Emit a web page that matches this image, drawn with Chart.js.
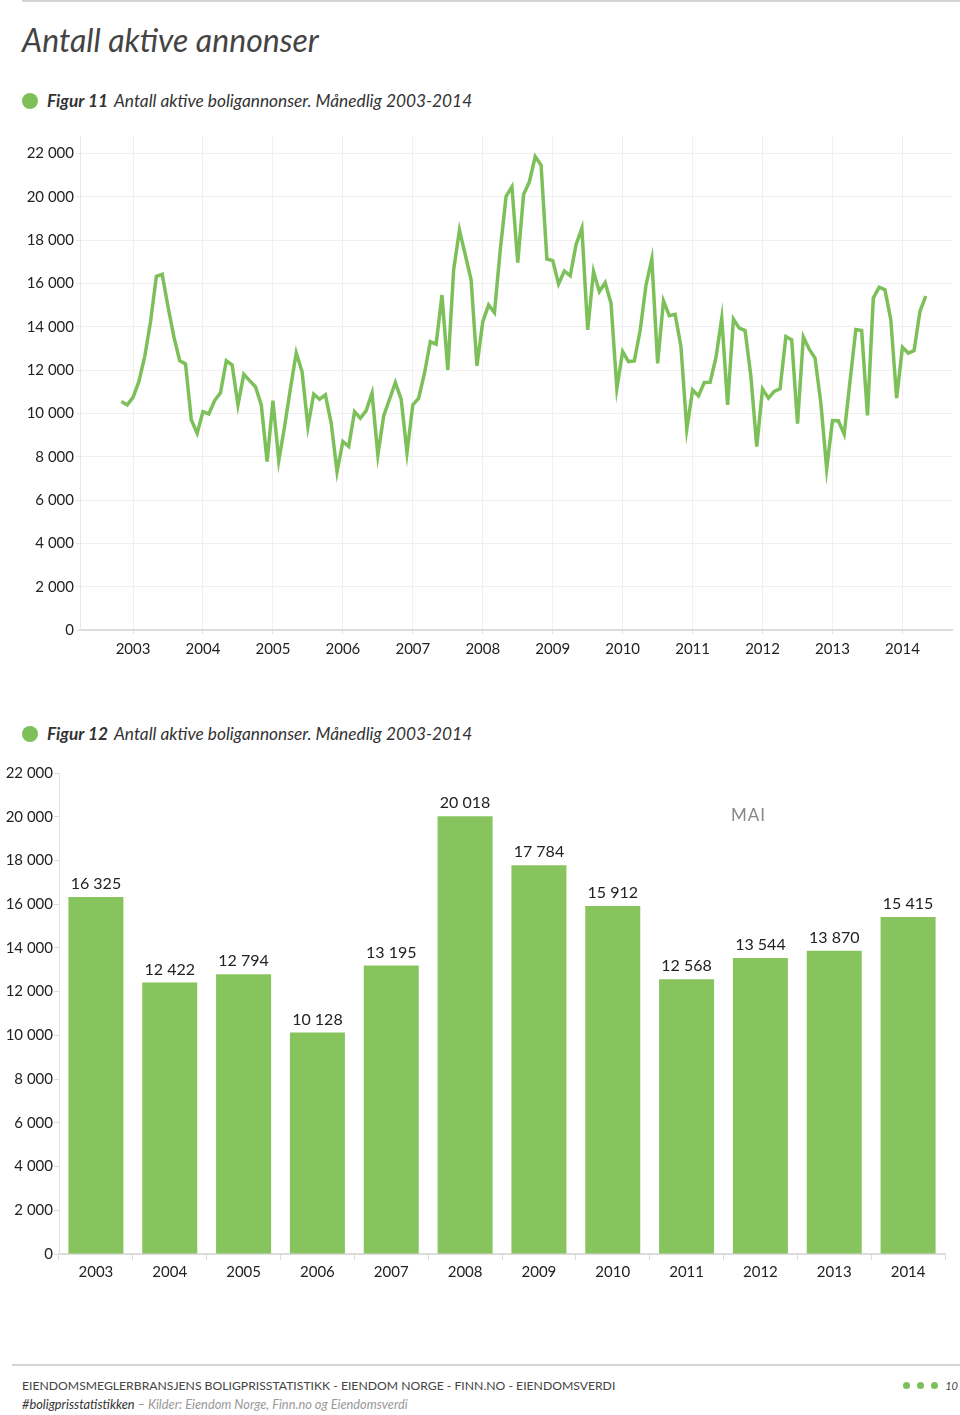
<!DOCTYPE html>
<html>
<head>
<meta charset="utf-8">
<script src="https://cdn.jsdelivr.net/npm/chart.js@4/dist/chart.umd.min.js"></script>
<style>
  html, body { margin: 0; padding: 0; background: #fff; }
  body { width: 960px; height: 1415px; position: relative; overflow: hidden; font-family: Lato, "Open Sans", sans-serif; color: #333; }
  .topline { position: absolute; left: 22px; right: 0; top: 0; height: 2px; background: #d4d4d4; }
  h1 { position: absolute; left: 22px; top: 20px; margin: 0; font-weight: 400; font-style: italic; font-size: 32px; color: #444; }
  .cap { position: absolute; left: 22px; font-style: italic; font-size: 17.3px; color: #333; white-space: nowrap; }
  .cap .dot { display: inline-block; width: 16px; height: 16px; border-radius: 50%; background: #7dc05a; vertical-align: -2px; margin-right: 9px; }
  .cap b { font-weight: 700; margin-right: 6px; }
  .box { position: absolute; left: 0; width: 960px; }
  .mai { position: absolute; left: 731px; top: 804px; font-size: 17px; color: #888; letter-spacing: 1px; }
  .footline { position: absolute; left: 12px; right: 0; top: 1364px; height: 2px; background: #d4d4d4; }
  .foot1 { position: absolute; left: 22px; top: 1378px; font-size: 12.2px; color: #444; white-space: nowrap; }
  .foot2 { position: absolute; left: 22px; top: 1396px; font-size: 12.8px; font-style: italic; color: #333; white-space: nowrap; }
  .foot2 span { color: #999; }
  .pg { position: absolute; right: 2px; top: 1379px; font-size: 11px; font-style: italic; color: #444; }
  .pg i { display: inline-block; width: 7px; height: 7px; border-radius: 50%; background: #7dc05a; margin-right: 7px; vertical-align: 1px; }
</style>
</head>
<body>
<div class="topline"></div>
<h1>Antall aktive annonser</h1>
<div class="cap" style="top:90px"><span class="dot"></span><b>Figur 11</b>Antall aktive boligannonser. Månedlig 2003-2014</div>
<div class="box" style="top:120px;height:550px"><canvas id="lineChart"></canvas></div>
<div class="cap" style="top:723px"><span class="dot"></span><b>Figur 12</b>Antall aktive boligannonser. Månedlig 2003-2014</div>
<div class="box" style="top:760px;height:530px"><canvas id="barChart"></canvas></div>
<div class="mai">MAI</div>
<div class="footline"></div>
<div class="foot1">EIENDOMSMEGLERBRANSJENS BOLIGPRISSTATISTIKK - EIENDOM NORGE - FINN.NO - EIENDOMSVERDI</div>
<div class="foot2">#boligprisstatistikken <span>– Kilder: Eiendom Norge, Finn.no og Eiendomsverdi</span></div>
<div class="pg"><i></i><i></i><i></i>10</div>
<script>
// years on both x axes
const years = ['2003', '2004', '2005', '2006', '2007', '2008', '2009', '2010', '2011', '2012', '2013', '2014'];
// y axis ticks
const yTicks = [0, 2000, 4000, 6000, 8000, 10000, 12000, 14000, 16000, 18000, 20000, 22000];
// monthly series, Nov 2002 - May 2014 (first value is 2 months before Jan 2003)
const firstMonth = -2;
const monthlyAds = [
  10550, 10390,
  10740, 11460, 12620, 14230, 16325, 16415, 14920, 13540, 12430, 12280, 9690, 9080,
  10080, 9970, 10590, 10950, 12422, 12230, 10390, 11800, 11510, 11230, 10390, 7770,
  10590, 7820, 9390, 11150, 12794, 11920, 9390, 10890, 10650, 10850, 9540, 7310,
  8700, 8470, 10080, 9770, 10128, 10930, 8080, 9880, 10650, 11420, 10650, 8190,
  10390, 10700, 11850, 13310, 13195, 15460, 12000, 16620, 18460, 17310, 16160, 12190,
  14230, 15000, 14650, 17540, 20018, 20460, 16960, 20100, 20690, 21850, 21460, 17120,
  17050, 15970, 16570, 16350, 17784, 18540, 13850, 16540, 15620, 16030, 15080, 11160,
  12850, 12390, 12420, 13820, 15912, 17120, 12310, 15190, 14510, 14570, 13080, 9270,
  11080, 10800, 11420, 11430, 12568, 14390, 10390, 14350, 13930, 13820, 11700, 8470,
  11120, 10700, 11010, 11130, 13544, 13390, 9520, 13520, 12960, 12550, 10470, 7440,
  9670, 9660, 9040, 11470, 13870, 13820, 9900, 15320, 15820, 15700, 14320, 10700,
  13050, 12780, 12900, 14700, 15415
];
// May values per year
const mayAds = [16325, 12422, 12794, 10128, 13195, 20018, 17784, 15912, 12568, 13544, 13870, 15415];

const green = '#7dc05a';
const barGreen = '#88c45e';
const fmt = v => String(v).replace(/\B(?=(\d{3})+(?!\d))/g, ' ');
Chart.defaults.font.family = 'Lato, "Open Sans", sans-serif';
Chart.defaults.color = '#222';

new Chart(document.getElementById('lineChart'), {
  type: 'line',
  data: {
    datasets: [{
      data: monthlyAds.map((v, i) => ({ x: firstMonth + i, y: v })),
      borderColor: green,
      borderWidth: 3.5,
      pointRadius: 0,
      tension: 0,
      fill: false
    }]
  },
  options: {
    responsive: true,
    maintainAspectRatio: false,
    animation: false,
    layout: { padding: { top: 16, right: 8, left: 0, bottom: 0 } },
    plugins: { legend: { display: false }, tooltip: { enabled: false } },
    scales: {
      x: {
        type: 'linear',
        min: -9.1,
        max: 140.5,
        afterBuildTicks: s => { s.ticks = years.map((y, i) => ({ value: i * 12 })); },
        afterFit: s => { s.height = 40; },
        ticks: { font: { size: 15 }, padding: 6, callback: v => String(2003 + v / 12) },
        grid: { color: '#f0f0f0', tickLength: 4, tickColor: '#e0e0e0' },
        border: { color: '#dcdcdc', width: 2 }
      },
      y: {
        min: 0,
        max: 22800,
        afterBuildTicks: s => { s.ticks = yTicks.map(v => ({ value: v })); },
        afterFit: s => { s.width = 80; },
        ticks: { font: { size: 15 }, padding: 2, callback: v => fmt(v) },
        grid: { color: '#f0f0f0', tickLength: 4, tickColor: '#e8e8e8' },
        border: { color: '#e6e6e6' }
      }
    }
  }
});

const barLabels = {
  id: 'barLabels',
  afterDatasetsDraw(chart) {
    const ctx = chart.ctx;
    const meta = chart.getDatasetMeta(0);
    ctx.save();
    ctx.font = '16px Lato, "Open Sans", sans-serif';
    ctx.fillStyle = '#222';
    ctx.textAlign = 'center';
    ctx.textBaseline = 'bottom';
    meta.data.forEach((bar, i) => {
      ctx.fillText(fmt(mayAds[i]), bar.x, bar.y - 5);
    });
    ctx.restore();
  }
};

new Chart(document.getElementById('barChart'), {
  type: 'bar',
  data: {
    labels: years,
    datasets: [{
      data: mayAds,
      backgroundColor: barGreen,
      barPercentage: 0.745,
      categoryPercentage: 1
    }]
  },
  options: {
    responsive: true,
    maintainAspectRatio: false,
    animation: false,
    layout: { padding: { top: 13, right: 15, left: 0, bottom: 0 } },
    plugins: { legend: { display: false }, tooltip: { enabled: false } },
    scales: {
      x: {
        afterFit: s => { s.height = 36; },
        ticks: { font: { size: 15 }, padding: 3 },
        grid: { drawOnChartArea: false, offset: true, tickLength: 6, tickColor: '#dcdcdc' },
        border: { color: '#dcdcdc', width: 2 }
      },
      y: {
        min: 0,
        max: 22000,
        afterBuildTicks: s => { s.ticks = yTicks.map(v => ({ value: v })); },
        afterFit: s => { s.width = 59; },
        ticks: { font: { size: 15 }, padding: 1, callback: v => fmt(v) },
        grid: { drawOnChartArea: false, tickLength: 5, tickColor: '#dcdcdc' },
        border: { color: '#e0e0e0' }
      }
    }
  },
  plugins: [barLabels]
});
</script>
</body>
</html>
